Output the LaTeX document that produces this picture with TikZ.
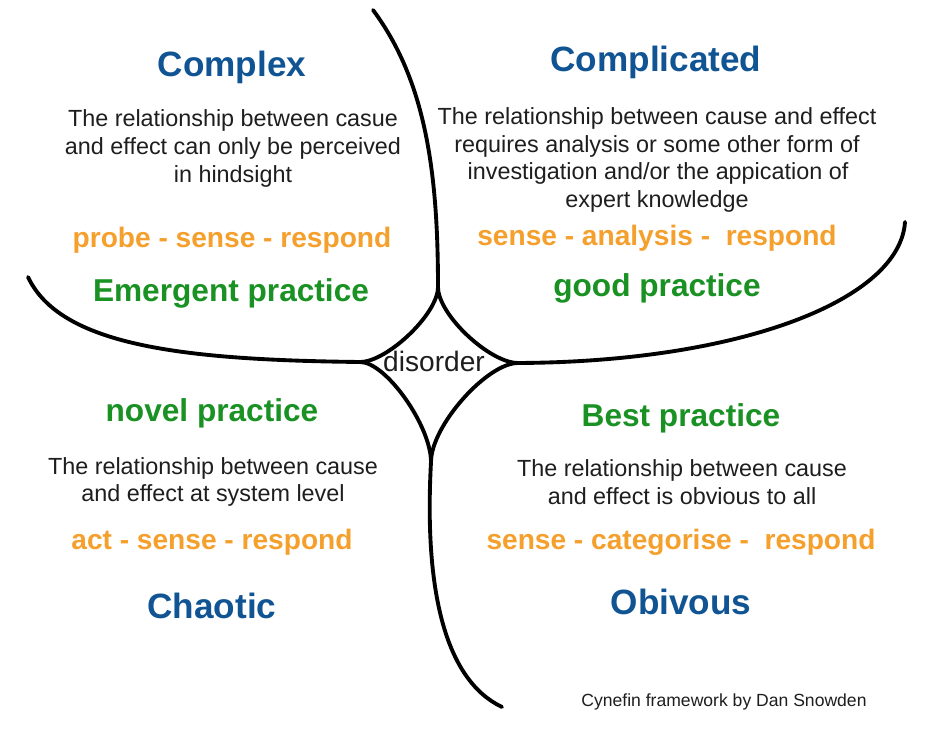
\documentclass[tikz,border=0pt]{standalone}
\usepackage{fontspec}
\setmainfont{Liberation Sans}
\definecolor{domainblue}{RGB}{16,84,148}
\definecolor{actorange}{RGB}{245,160,45}
\definecolor{practgreen}{RGB}{25,145,35}
\definecolor{bodygray}{RGB}{30,30,30}
\tikzset{
  boundary/.style={line width=2.2pt, line cap=round, line join=round, draw=black},
  domaintitle/.style={inner sep=0pt, anchor=base, text=domainblue, font=\fontsize{20}{24}\selectfont\bfseries},
  desc/.style={inner sep=0pt, anchor=base, text=bodygray, font=\fontsize{13.3}{16}\selectfont},
  approach/.style={inner sep=0pt, anchor=base, text=actorange, font=\fontsize{16}{19}\selectfont\bfseries},
  practicelabel/.style={inner sep=0pt, anchor=base, text=practgreen, font=\fontsize{18}{22}\selectfont\bfseries},
  centrelabel/.style={inner sep=0pt, anchor=base, text=bodygray, font=\fontsize{16}{19}\selectfont},
  credit/.style={inner sep=0pt, anchor=base, text=bodygray, font=\fontsize{10}{12}\selectfont}
}
\begin{document}
\begin{tikzpicture}[x=0.02cm, y=-0.02cm]
\useasboundingbox (0,0) rectangle (927,739);
\fill[white] (0,0) rectangle (927,739);

% cusp points of the central disorder region
\coordinate (T) at (438,287);
\coordinate (L) at (360,362);
\coordinate (R) at (518,363);
\coordinate (B) at (431,462);
% free ends of the four boundaries
\coordinate (topend) at (373,10);
\coordinate (leftend) at (28,277);
\coordinate (rightend) at (905,222);
\coordinate (bottomend) at (502,707);

% outer boundaries
\draw[boundary] (topend) .. controls (425,80) and (438,170) .. (T);
\draw[boundary] (leftend) .. controls (60,345) and (180,360) .. (L);
\draw[boundary] (rightend) .. controls (900,300) and (740,362) .. (R);
\draw[boundary] (B) .. controls (424,590) and (445,680) .. (bottomend);

% central disorder region
\draw[boundary] (T) .. controls (438,314) and (387,362) .. (L);
\draw[boundary] (T) .. controls (438,315) and (490,363) .. (R);
\draw[boundary] (L) .. controls (386,362) and (431,426) .. (B);
\draw[boundary] (R) .. controls (487,363) and (431,426) .. (B);
\node[centrelabel] (disorder) at (434,372) {disorder};

% Complex
\node[domaintitle] (complex) at (232,77) {Complex};
\node[desc] (cx1) at (233,127) {The relationship between casue};
\node[desc] (cx2) at (233,155) {and effect can only be perceived};
\node[desc] (cx3) at (233,183) {in hindsight};
\node[approach] (cxa) at (232,248) {probe - sense - respond};
\node[practicelabel] (cxp) at (231,302) {Emergent practice};

% Complicated
\node[domaintitle] (complicated) at (656,72) {Complicated};
\node[desc] (cd1) at (657,125) {The relationship between cause and effect};
\node[desc] (cd2) at (657,153) {requires analysis or some other form of};
\node[desc] (cd3) at (658,180) {investigation and/or the appication of};
\node[desc] (cd4) at (657,208) {expert knowledge};
\node[approach] (cda) at (657,246) {sense - analysis -~~respond};
\node[practicelabel] (cdp) at (657,297) {good practice};

% Chaotic
\node[practicelabel] (chp) at (212,422) {novel practice};
\node[desc] (ch1) at (213,475) {The relationship between cause};
\node[desc] (ch2) at (213,502) {and effect at system level};
\node[approach] (cha) at (212,550) {act - sense - respond};
\node[domaintitle] (chaotic) at (212,619) {Chaotic};

% Obvious
\node[practicelabel] (obp) at (681,427) {Best practice};
\node[desc] (ob1) at (682,477) {The relationship between cause};
\node[desc] (ob2) at (682,505) {and effect is obvious to all};
\node[approach] (oba) at (681,550) {sense - categorise -~~respond};
\node[domaintitle] (obvious) at (681,615) {Obivous};

\node[credit] (source) at (724,707) {Cynefin framework by Dan Snowden};
\end{tikzpicture}
\end{document}
